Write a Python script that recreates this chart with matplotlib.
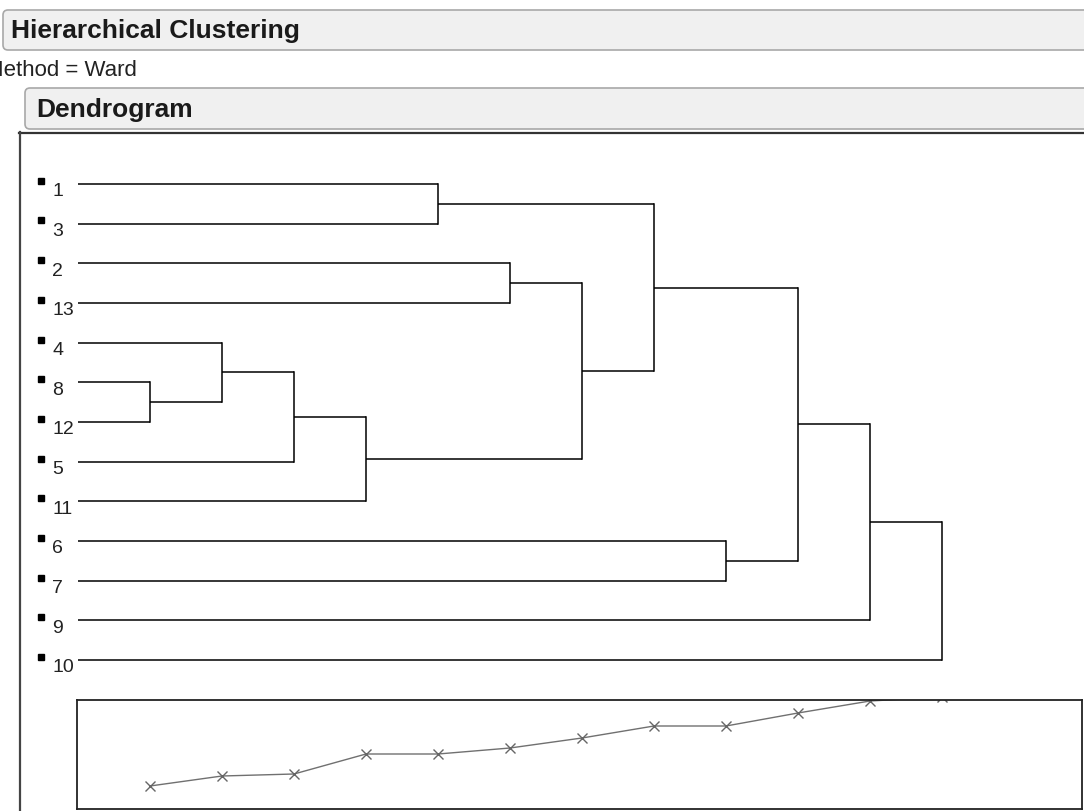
import matplotlib
matplotlib.use("Agg")
import matplotlib.pyplot as plt
from matplotlib.patches import FancyBboxPatch

plt.rcParams['font.family'] = ['Liberation Sans', 'DejaVu Sans']

# leaf order top to bottom
leaves = ["1", "3", "2", "13", "4", "8", "12", "5", "11", "6", "7", "9", "10"]
# joins in order; "cN" means the cluster made by join N
joins = [("8", "12"), ("4", "c1"), ("c2", "5"), ("c3", "11"), ("1", "3"),
         ("2", "13"), ("c6", "c4"), ("c5", "c7"), ("6", "7"), ("c8", "c9"),
         ("c10", "9"), ("c11", "10")]
join_pos = [1, 2, 3, 4, 5, 6, 7, 8, 9, 10, 11, 12]
# distance graph under the dendrogram
join_dist = [23, 33, 35, 55, 55, 61, 71, 83, 83, 96, 108, 112]

W, H = 1084, 811
fig = plt.figure(figsize=(W / 100, H / 100), dpi=100)
fig.patch.set_facecolor("white")

# background axes in pixel units for the header boxes
bg = fig.add_axes([0, 0, 1, 1])
bg.set_xlim(0, W)
bg.set_ylim(H, 0)
bg.axis("off")

def header(x, y, w, h, text, tx):
    bg.add_patch(FancyBboxPatch((x, y), w, h, boxstyle="round,pad=0,rounding_size=5",
                                facecolor="#f0f0f0", edgecolor="#a8a8a8", lw=1.2))
    bg.text(tx, y + h / 2 + 1, text, fontsize=19, fontweight="bold",
            color="#1a1a1a", va="center", ha="left")

header(3, 10, 1100, 40, "Hierarchical Clustering", 11)
bg.text(-15, 70, "Method = Ward", fontsize=16, color="#222222", va="center", ha="left")
header(25, 88, 1100, 41, "Dendrogram", 36)
# frame around the dendrogram
bg.plot([19, W], [132.5, 132.5], color="#333333", lw=1.6)
bg.plot([19.5, 19.5], [132, H], color="#444444", lw=1.6)

def px_axes(x0, y0, x1, y1):
    return fig.add_axes([x0 / W, 1 - y1 / H, (x1 - x0) / W, (y1 - y0) / H])

# dendrogram axes: step 0 at pixel 78, 72 px per step; leaf 0 at 184, 39.67 px per leaf
ax = px_axes(21, 134, W, 690)
ax.set_xlim((21 - 78) / 72, (W - 78) / 72)
ax.set_ylim((690 - 184) / 39.67, (134 - 184) / 39.67)
ax.axis("off")

node_y = {name: i for i, name in enumerate(leaves)}
node_x = {name: 0 for name in leaves}
for k, (a, b) in enumerate(joins):
    xk = join_pos[k]
    for c in (a, b):
        ax.plot([node_x[c], xk], [node_y[c], node_y[c]], color="black", lw=1.1,
                solid_capstyle="butt")
    ax.plot([xk, xk], [node_y[a], node_y[b]], color="black", lw=1.1,
            solid_capstyle="projecting")
    name = "c%d" % (k + 1)
    node_y[name] = (node_y[a] + node_y[b]) / 2
    node_x[name] = xk

for i, lab in enumerate(leaves):
    ax.plot(-0.515, i - 0.08, marker="s", ms=4.2, color="black")
    ax.text(-0.36, i + 0.2, lab, fontsize=14, color="#222222", va="center", ha="left")

# distance graph
ax2 = px_axes(77, 700, 1082, 809)
ax2.set_xlim((77 - 78) / 72, (1082 - 78) / 72)
ax2.set_ylim(0, 109)
ax2.plot(join_pos, join_dist, color="#707070", lw=1.0, marker="x", ms=7,
         mec="#666666", mew=1.0)
ax2.set_xticks([])
ax2.set_yticks([])
for s in ax2.spines.values():
    s.set_linewidth(1.3)
    s.set_color("#222222")

fig.savefig("out.png", dpi=100, facecolor="white")
